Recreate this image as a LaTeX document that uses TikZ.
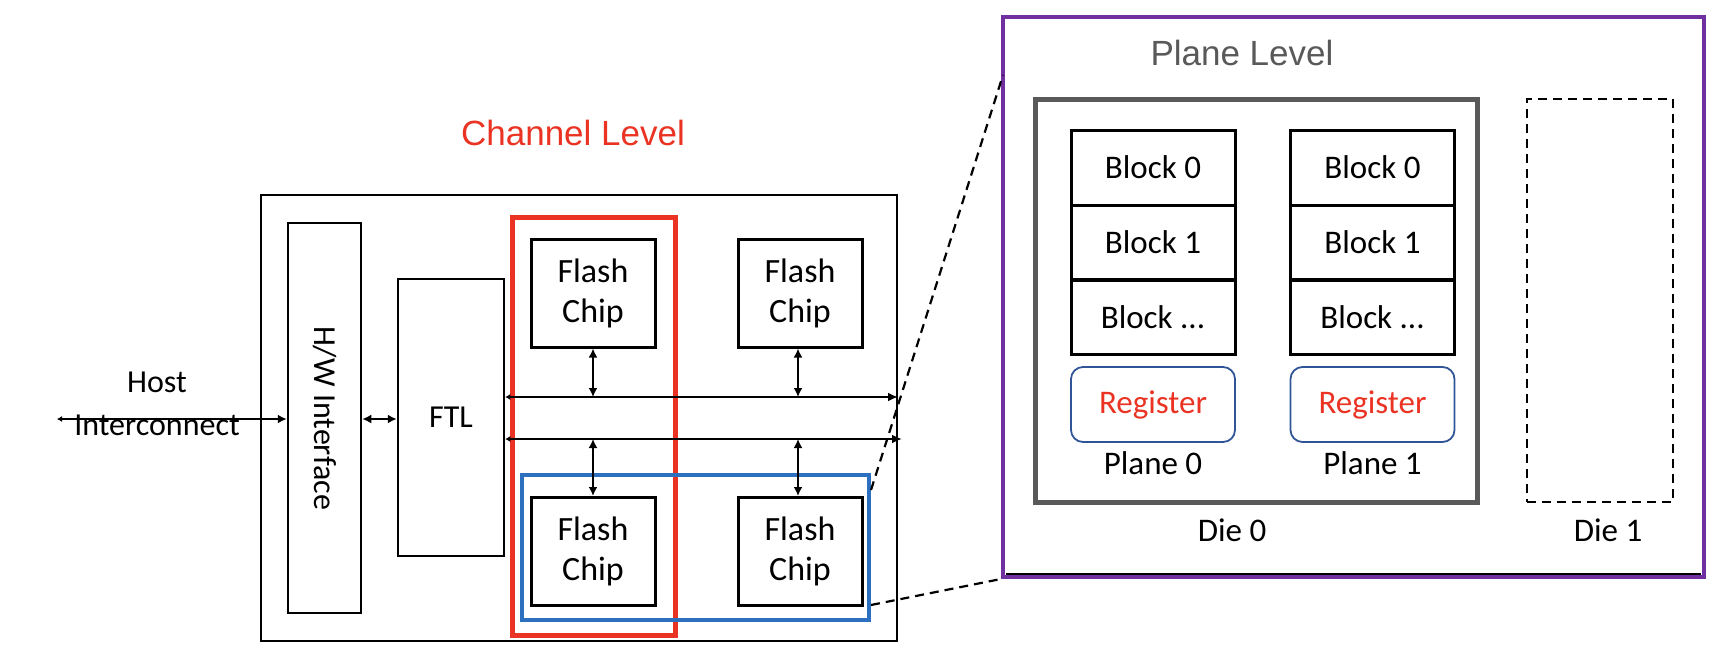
\documentclass[tikz,border=0pt]{standalone}
\usepackage{fontspec}
\setmainfont{Carlito}
\newfontfamily\arialf{Liberation Sans}
\usetikzlibrary{arrows.meta}
\definecolor{chred}{RGB}{234,51,35}
\definecolor{chblue}{RGB}{46,112,192}
\definecolor{chpurple}{RGB}{112,48,160}
\definecolor{diegray}{RGB}{89,89,89}
\definecolor{regblue}{RGB}{47,85,151}
\tikzset{
  box/.style={draw=black, line width=2.5pt, rectangle, inner sep=0pt},
  chipbox/.style={box, line width=3pt, minimum width=124pt, minimum height=108pt, align=center, font=\fontsize{34}{40}\selectfont},
  blockbox/.style={box, line width=3pt, minimum width=164pt, minimum height=75pt, font=\fontsize{33}{38}\selectfont},
  regbox/.style={draw=regblue, line width=1.8pt, rounded corners=12pt, minimum width=164pt, minimum height=75pt, text=chred, font=\fontsize{33}{38}\selectfont},
  lbl/.style={font=\fontsize{33}{38}\selectfont, inner sep=0pt},
  biarrow/.style={line width=2.2pt, {Latex[length=9pt,width=9pt]}-{Latex[length=9pt,width=9pt]}},
  busarrow/.style={line width=2.2pt, {Latex[length=5pt,width=6pt]}-{Latex[length=10pt,width=9pt]}},
  zoomline/.style={line width=2.2pt, dash pattern=on 9pt off 6pt},
}
\begin{document}
\begin{tikzpicture}[x=1pt,y=-1pt]
\useasboundingbox (0,0) rectangle (1718,654);
% ---------- left part ----------
\node[box, minimum width=636pt, minimum height=446pt] (outer) at (579,418) {};
\node[box, minimum width=73pt, minimum height=390pt] (hw) at (324.5,418) {};
\node[font=\fontsize{32}{38}\selectfont, rotate=-90] (hwt) at (hw.center) {H/W Interface};
\node[box, minimum width=106pt, minimum height=277pt, font=\fontsize{32}{38}\selectfont] (ftl) at (451,417.5) {FTL};
\node[draw=chred, line width=5pt, minimum width=163pt, minimum height=418pt, inner sep=0pt] (red) at (593.5,426) {};
\node[chipbox] (c1) at (593,293) {Flash\\Chip};
\node[chipbox] (c2) at (800,293) {Flash\\Chip};
\node[chipbox] (c3) at (593,551.5) {Flash\\Chip};
\node[chipbox] (c4) at (800,551.5) {Flash\\Chip};
\node[draw=chblue, line width=4.5pt, minimum width=347pt, minimum height=145pt, inner sep=0pt] (blue) at (695.5,547.5) {};
\node[text=chred, font=\arialf\fontsize{35}{40}\selectfont] (chl) at (573,133) {Channel Level};
\node[lbl, font=\fontsize{32}{38}\selectfont] (hostt) at (157,382) {Host};
\node[lbl, font=\fontsize{32}{38}\selectfont] (intt) at (157,425) {Interconnect};
\coordinate (host) at (57,419);
\draw[biarrow, {Latex[length=5pt,width=6pt]}-{Latex[length=9pt,width=9pt]}] (host) -- (hw.west |- host);
\draw[biarrow] (hw.east |- host) -- (ftl.west |- host);
\coordinate (busA) at (898,397);
\coordinate (busB) at (902,439);
\draw[busarrow] (ftl.east |- busA) -- (busA);
\draw[busarrow] (ftl.east |- busB) -- (busB);
\draw[biarrow] (c1.south) -- (c1.south |- busA);
\draw[biarrow] (c2.south -| 798,0) -- (798,397);
\draw[biarrow] (c3.north |- busB) -- (c3.north);
\draw[biarrow] (798,439) -- (c4.north -| 798,0);
% ---------- right part ----------
\node[draw=chpurple, line width=4pt, minimum width=701pt, minimum height=560pt, inner sep=0pt] (purple) at (1353.5,297) {};
\coordinate (pbl) at (1006,574);
\coordinate (pbr) at (1701,574);
\draw[line width=1.5pt] (pbl) -- (pbr);
\node[text=diegray, font=\arialf\fontsize{35}{40}\selectfont] (pll) at (1242,53) {Plane Level};
\node[draw=diegray, line width=5pt, minimum width=442pt, minimum height=403pt, inner sep=0pt] (die0) at (1256,300.5) {};
\node[draw=black, line width=2.2pt, dash pattern=on 9pt off 6pt, minimum width=146pt, minimum height=403pt, inner sep=0pt] (die1) at (1600,300.5) {};
\node[blockbox] (a0) at (1153,167.5) {Block 0};
\node[blockbox] (a1) at (1153,242.5) {Block 1};
\node[blockbox] (a2) at (1153,317) {Block ...};
\node[blockbox] (b0) at (1372.5,167.5) {Block 0};
\node[blockbox] (b1) at (1372.5,242.5) {Block 1};
\node[blockbox] (b2) at (1372.5,317) {Block ...};
\node[regbox] (r0) at (1153,404.5) {Register};
\node[regbox] (r1) at (1372.5,404.5) {Register};
\node[lbl] (p0) at (1153,463) {Plane 0};
\node[lbl] (p1) at (1372.5,463) {Plane 1};
\node[lbl] (d0) at (1232,530) {Die 0};
\node[lbl] (d1) at (1608,530) {Die 1};
% ---------- zoom lines ----------
\coordinate (zA) at (871,490);
\coordinate (zB) at (871,605);
\coordinate (zC) at (1003,75);
\draw[zoomline] (zA) -- (zC);
\draw[zoomline] (zB) -- (purple.south west);
\end{tikzpicture}
\end{document}
